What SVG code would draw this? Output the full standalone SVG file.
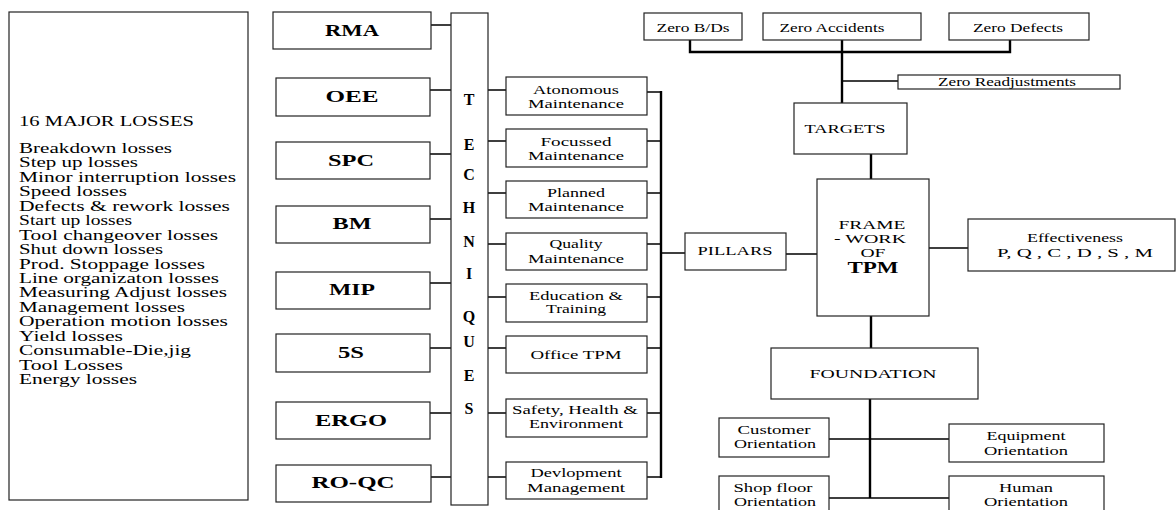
<svg xmlns="http://www.w3.org/2000/svg" width="1176" height="510" viewBox="0 0 1176 510">
<style>
.b{fill:#fff;stroke:#222;stroke-width:1.2}
text{font-family:"Liberation Serif","Times New Roman",serif;fill:#000;font-size:13px}
.m{text-anchor:middle}
.tb{font-size:16px;font-weight:bold;text-anchor:middle}
.tl{font-size:16px;font-weight:bold;text-anchor:middle}
.ls{font-size:14px}
.c{stroke:#000;stroke-width:1.4;fill:none}
.k{stroke:#000;stroke-width:2.4;fill:none}
</style>
<rect width="1176" height="510" fill="#fff"/>
<g id="losses">
<rect class="b" x="9" y="12" width="239" height="488"/>
<text class="ls" x="19" y="126" textLength="175" lengthAdjust="spacingAndGlyphs">16 MAJOR LOSSES</text>
<text class="ls" x="19" y="153" textLength="153" lengthAdjust="spacingAndGlyphs">Breakdown losses</text>
<text class="ls" x="19" y="167.4" textLength="119" lengthAdjust="spacingAndGlyphs">Step up losses</text>
<text class="ls" x="19" y="181.9" textLength="217" lengthAdjust="spacingAndGlyphs">Minor interruption losses</text>
<text class="ls" x="19" y="196.3" textLength="108" lengthAdjust="spacingAndGlyphs">Speed losses</text>
<text class="ls" x="19" y="210.8" textLength="211" lengthAdjust="spacingAndGlyphs">Defects &amp; rework losses</text>
<text class="ls" x="19" y="225.2" textLength="113" lengthAdjust="spacingAndGlyphs">Start up losses</text>
<text class="ls" x="19" y="239.6" textLength="199" lengthAdjust="spacingAndGlyphs">Tool changeover losses</text>
<text class="ls" x="19" y="254.1" textLength="144" lengthAdjust="spacingAndGlyphs">Shut down losses</text>
<text class="ls" x="19" y="268.5" textLength="186" lengthAdjust="spacingAndGlyphs">Prod. Stoppage losses</text>
<text class="ls" x="19" y="283" textLength="200" lengthAdjust="spacingAndGlyphs">Line organizaton losses</text>
<text class="ls" x="19" y="297.4" textLength="208" lengthAdjust="spacingAndGlyphs">Measuring Adjust losses</text>
<text class="ls" x="19" y="311.8" textLength="166" lengthAdjust="spacingAndGlyphs">Management losses</text>
<text class="ls" x="19" y="326.3" textLength="209" lengthAdjust="spacingAndGlyphs">Operation motion losses</text>
<text class="ls" x="19" y="340.7" textLength="104" lengthAdjust="spacingAndGlyphs">Yield losses</text>
<text class="ls" x="19" y="355.2" textLength="172" lengthAdjust="spacingAndGlyphs">Consumable-Die,jig</text>
<text class="ls" x="19" y="369.6" textLength="104" lengthAdjust="spacingAndGlyphs">Tool Losses</text>
<text class="ls" x="19" y="384" textLength="118" lengthAdjust="spacingAndGlyphs">Energy losses</text>
</g>
<g id="connectors">
<path class="c" d="M431 25H451M430 90H451M430 154H451M430 219H451M430 283H451M430 348H451M430 413H451M431 477H451"/>
<path class="c" d="M488 90H506M488 141H506M488 193H506M488 244H506M488 297H506M488 348H506M488 413H506M488 477H506"/>
<path class="c" d="M642 92H661M642 141H661M642 193H661M642 244H661M642 297H661M642 348H661M642 413H661M642 477H661"/>
<path class="k" d="M661 91V478"/>
<path class="c" d="M661 253H685M786 254H817M929 248H968"/>
<path class="k" d="M690 40V52H1010V40M842 40V103M871 154V179M871 316V348M870 399V498"/>
<path class="c" d="M842 81H898M829 439H949M829 498H949"/>
</g>
<g id="rma"><rect class="b" x="273" y="12" width="158" height="37"/><text class="tb" x="352" y="36" textLength="54" lengthAdjust="spacingAndGlyphs">RMA</text></g>
<g id="oee"><rect class="b" x="276" y="78" width="154" height="38"/><text class="tb" x="352" y="102" textLength="53" lengthAdjust="spacingAndGlyphs">OEE</text></g>
<g id="spc"><rect class="b" x="276" y="142" width="154" height="37"/><text class="tb" x="351" y="166" textLength="46" lengthAdjust="spacingAndGlyphs">SPC</text></g>
<g id="bm"><rect class="b" x="276" y="206" width="154" height="37"/><text class="tb" x="352" y="229" textLength="39" lengthAdjust="spacingAndGlyphs">BM</text></g>
<g id="mip"><rect class="b" x="276" y="272" width="154" height="37"/><text class="tb" x="352" y="295" textLength="46" lengthAdjust="spacingAndGlyphs">MIP</text></g>
<g id="5s"><rect class="b" x="276" y="334" width="154" height="38"/><text class="tb" x="351" y="358" textLength="26" lengthAdjust="spacingAndGlyphs">5S</text></g>
<g id="ergo"><rect class="b" x="276" y="402" width="154" height="37"/><text class="tb" x="351" y="426" textLength="72" lengthAdjust="spacingAndGlyphs">ERGO</text></g>
<g id="roqc"><rect class="b" x="276" y="465" width="155" height="37"/><text class="tb" x="353" y="488" textLength="83" lengthAdjust="spacingAndGlyphs">RO-QC</text></g>
<g id="techniques">
<rect class="b" x="451" y="13" width="37" height="492"/>
<text class="tl" x="469" y="105">T</text><text class="tl" x="469" y="150">E</text><text class="tl" x="469" y="180">C</text><text class="tl" x="469" y="213">H</text><text class="tl" x="469" y="247">N</text><text class="tl" x="469" y="279">I</text><text class="tl" x="469" y="322">Q</text><text class="tl" x="469" y="347">U</text><text class="tl" x="469" y="381">E</text><text class="tl" x="469" y="414">S</text>
</g>
<g id="am"><rect class="b" x="506" y="77" width="141" height="38"/><text class="m" x="576" y="94" textLength="86" lengthAdjust="spacingAndGlyphs">Atonomous</text><text class="m" x="576" y="108" textLength="96" lengthAdjust="spacingAndGlyphs">Maintenance</text></g>
<g id="fm"><rect class="b" x="506" y="129" width="141" height="38"/><text class="m" x="576" y="146" textLength="71" lengthAdjust="spacingAndGlyphs">Focussed</text><text class="m" x="576" y="160" textLength="96" lengthAdjust="spacingAndGlyphs">Maintenance</text></g>
<g id="pm"><rect class="b" x="506" y="181" width="141" height="37"/><text class="m" x="576" y="197" textLength="58" lengthAdjust="spacingAndGlyphs">Planned</text><text class="m" x="576" y="211" textLength="96" lengthAdjust="spacingAndGlyphs">Maintenance</text></g>
<g id="qm"><rect class="b" x="506" y="233" width="141" height="37"/><text class="m" x="576" y="248" textLength="53" lengthAdjust="spacingAndGlyphs">Quality</text><text class="m" x="576" y="263" textLength="96" lengthAdjust="spacingAndGlyphs">Maintenance</text></g>
<g id="et"><rect class="b" x="506" y="284" width="141" height="38"/><text class="m" x="576" y="300" textLength="94" lengthAdjust="spacingAndGlyphs">Education &amp;</text><text class="m" x="576" y="313" textLength="60" lengthAdjust="spacingAndGlyphs">Training</text></g>
<g id="otpm"><rect class="b" x="506" y="336" width="141" height="37"/><text class="m" x="576" y="359" textLength="91" lengthAdjust="spacingAndGlyphs">Office TPM</text></g>
<g id="she"><rect class="b" x="506" y="399" width="141" height="38"/><text class="m" x="575" y="414" textLength="126" lengthAdjust="spacingAndGlyphs">Safety, Health &amp;</text><text class="m" x="576" y="428" textLength="94" lengthAdjust="spacingAndGlyphs">Environment</text></g>
<g id="dm"><rect class="b" x="506" y="462" width="141" height="37"/><text class="m" x="576" y="477" textLength="91" lengthAdjust="spacingAndGlyphs">Devlopment</text><text class="m" x="576" y="492" textLength="98" lengthAdjust="spacingAndGlyphs">Management</text></g>
<g id="pillars"><rect class="b" x="685" y="233" width="101" height="37"/><text class="m" x="735" y="255" textLength="75" lengthAdjust="spacingAndGlyphs">PILLARS</text></g>
<g id="zbd"><rect class="b" x="644" y="13" width="98" height="27"/><text class="m" x="693" y="32" textLength="73" lengthAdjust="spacingAndGlyphs">Zero B/Ds</text></g>
<g id="zacc"><rect class="b" x="763" y="13" width="158" height="27"/><text class="m" x="832" y="32" textLength="105" lengthAdjust="spacingAndGlyphs">Zero Accidents</text></g>
<g id="zdef"><rect class="b" x="949" y="13" width="140" height="27"/><text class="m" x="1018" y="32" textLength="90" lengthAdjust="spacingAndGlyphs">Zero Defects</text></g>
<g id="zread"><rect class="b" x="898" y="75" width="222" height="14"/><text class="m" x="1007" y="86" textLength="138" lengthAdjust="spacingAndGlyphs">Zero Readjustments</text></g>
<g id="targets"><rect class="b" x="794" y="103" width="113" height="51"/><text class="m" x="845" y="133" textLength="81" lengthAdjust="spacingAndGlyphs">TARGETS</text></g>
<g id="frame"><rect class="b" x="817" y="179" width="112" height="137"/>
<text class="m" x="872" y="229" textLength="67" lengthAdjust="spacingAndGlyphs">FRAME</text>
<text class="m" x="870" y="243" textLength="72" lengthAdjust="spacingAndGlyphs">- WORK</text>
<text class="m" x="873" y="257" textLength="25" lengthAdjust="spacingAndGlyphs">OF</text>
<text class="m" x="873" y="273" style="font-weight:bold;font-size:16px" textLength="51" lengthAdjust="spacingAndGlyphs">TPM</text></g>
<g id="effect"><rect class="b" x="968" y="219" width="207" height="52"/><text class="m" x="1075" y="242" textLength="96" lengthAdjust="spacingAndGlyphs">Effectiveness</text><text class="m" x="1075" y="257" textLength="156" lengthAdjust="spacingAndGlyphs">P,  Q , C , D , S , M</text></g>
<g id="foundation"><rect class="b" x="771" y="348" width="207" height="51"/><text class="m" x="873" y="378" textLength="127" lengthAdjust="spacingAndGlyphs">FOUNDATION</text></g>
<g id="cust"><rect class="b" x="719" y="418" width="110" height="39"/><text class="m" x="774" y="434" textLength="73" lengthAdjust="spacingAndGlyphs">Customer</text><text class="m" x="775" y="448" textLength="82" lengthAdjust="spacingAndGlyphs">Orientation</text></g>
<g id="equip"><rect class="b" x="949" y="424" width="155" height="38"/><text class="m" x="1026" y="440" textLength="79" lengthAdjust="spacingAndGlyphs">Equipment</text><text class="m" x="1026" y="455" textLength="84" lengthAdjust="spacingAndGlyphs">Orientation</text></g>
<g id="shop"><rect class="b" x="719" y="476" width="110" height="44"/><text class="m" x="773" y="492" textLength="79" lengthAdjust="spacingAndGlyphs">Shop floor</text><text class="m" x="775" y="506" textLength="82" lengthAdjust="spacingAndGlyphs">Orientation</text></g>
<g id="human"><rect class="b" x="949" y="476" width="155" height="44"/><text class="m" x="1026" y="492" textLength="54" lengthAdjust="spacingAndGlyphs">Human</text><text class="m" x="1026" y="506" textLength="84" lengthAdjust="spacingAndGlyphs">Orientation</text></g>
</svg>
